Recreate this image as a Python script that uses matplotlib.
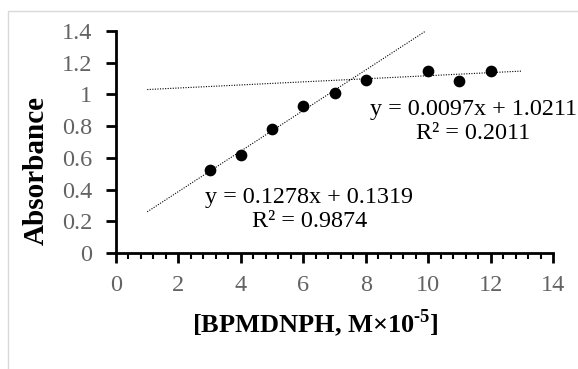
import matplotlib.pyplot as plt
import matplotlib.patches as patches
import numpy as np
from matplotlib.ticker import MultipleLocator

# datos
conc = [3, 4, 5, 6, 7, 8, 10, 11, 12]
absorb = [0.525, 0.615, 0.78, 0.925, 1.01, 1.09, 1.15, 1.085, 1.15]

# lineas de tendencia (pendiente, intercepto, rango x)
fit1 = (0.1278, 0.1319, 1, 9.92)
fit2 = (0.0097, 1.0211, 1, 13)
eq1 = ["y = 0.1278x + 0.1319", "R² = 0.9874"]
eq2 = ["y = 0.0097x + 1.0211", "R² = 0.2011"]

plt.rcParams['font.family'] = 'Liberation Serif'
plt.rcParams['mathtext.fontset'] = 'custom'
plt.rcParams['mathtext.bf'] = 'Liberation Serif:bold'
plt.rcParams['mathtext.rm'] = 'Liberation Serif:bold'

fig = plt.figure(figsize=(5.78, 3.69), dpi=100)
ax = fig.add_axes([116 / 578, 1 - 253 / 369, (553 - 116) / 578, (253 - 31) / 369])

ax.scatter(conc, absorb, s=55, color='black', zorder=3)

for m, b, x0, x1 in (fit1, fit2):
    xs = np.array([x0, x1])
    ax.plot(xs, m * xs + b, color='black', lw=0.8, ls=(0, (1, 1.3)))

ax.text(6.19, 0.275, eq1[0] + "\n" + eq1[1], ha='center', va='center', fontsize=17.4, linespacing=1.15)
ax.text(11.44, 0.83, eq2[0] + "\n" + eq2[1], ha='center', va='center', fontsize=17.4, linespacing=1.15,
        clip_on=False)

ax.set_xlim(0, 14)
ax.set_ylim(0, 1.4)
ax.xaxis.set_major_locator(MultipleLocator(2))
ax.xaxis.set_minor_locator(MultipleLocator(0.4))
ax.set_yticks([0, 0.2, 0.4, 0.6, 0.8, 1.0, 1.2, 1.4])
ax.set_yticklabels(['0', '0.2', '0.4', '0.6', '0.8', '1', '1.2', '1.4'])

for s in ['top', 'right']:
    ax.spines[s].set_visible(False)
for s in ['left', 'bottom']:
    ax.spines[s].set_linewidth(2)
ax.tick_params(which='major', direction='out', length=7, width=2, labelsize=17.5, labelcolor='#636363', pad=10)
ax.tick_params(axis='x', which='major', pad=9)
ax.tick_params(which='minor', direction='out', length=4, width=1.5)

fig.text(315 / 578, 1 - 323 / 369, '[BPMDNPH, M×10$^{\\text{-}5}$]', fontsize=19, fontweight='bold',
         ha='center', va='center')
fig.text(36 / 578, 1 - 170 / 369, 'Absorbance', fontsize=21, fontweight='bold',
         ha='center', va='center', rotation=90)

fig.patches.append(patches.Rectangle((8 / 578, -0.1), 1.2, 1 - 11 / 369 + 0.1, transform=fig.transFigure,
                                     fill=False, edgecolor='#d9d9d9', lw=1))

fig.savefig('out.png', dpi=100)
